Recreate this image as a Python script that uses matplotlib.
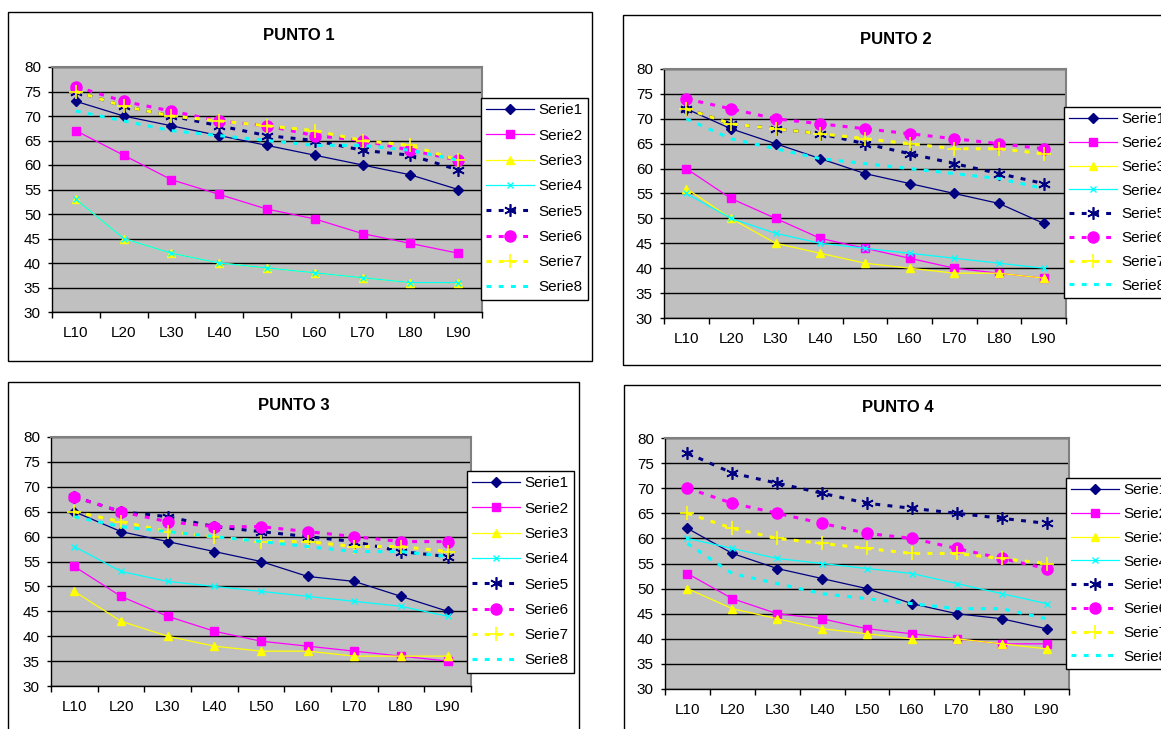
import matplotlib
matplotlib.use("Agg")
import matplotlib.pyplot as plt
from matplotlib.patches import Rectangle

plt.rcParams["font.family"] = ["Liberation Sans", "DejaVu Sans"]

categories = ["L10", "L20", "L30", "L40", "L50", "L60", "L70", "L80", "L90"]
series_names = ["Serie1", "Serie2", "Serie3", "Serie4", "Serie5", "Serie6", "Serie7", "Serie8"]

punto1 = [
    [73, 70, 68, 66, 64, 62, 60, 58, 55],
    [67, 62, 57, 54, 51, 49, 46, 44, 42],
    [53, 45, 42, 40, 39, 38, 37, 36, 36],
    [53, 45, 42, 40, 39, 38, 37, 36, 36],
    [75, 72, 70, 68, 66, 65, 63, 62, 59],
    [76, 73, 71, 69, 68, 66, 65, 63, 61],
    [75, 72, 70, 69, 68, 67, 65, 64, 61],
    [71, 69, 67, 66, 65, 64, 64, 63, 61],
]
punto2 = [
    [72, 68, 65, 62, 59, 57, 55, 53, 49],
    [60, 54, 50, 46, 44, 42, 40, 39, 38],
    [56, 50, 45, 43, 41, 40, 39, 39, 38],
    [55, 50, 47, 45, 44, 43, 42, 41, 40],
    [72, 69, 68, 67, 65, 63, 61, 59, 57],
    [74, 72, 70, 69, 68, 67, 66, 65, 64],
    [72, 69, 68, 67, 66, 65, 64, 64, 63],
    [70, 66, 64, 62, 61, 60, 59, 58, 56],
]
punto3 = [
    [65, 61, 59, 57, 55, 52, 51, 48, 45],
    [54, 48, 44, 41, 39, 38, 37, 36, 35],
    [49, 43, 40, 38, 37, 37, 36, 36, 36],
    [58, 53, 51, 50, 49, 48, 47, 46, 44],
    [68, 65, 64, 62, 61, 60, 59, 57, 56],
    [68, 65, 63, 62, 62, 61, 60, 59, 59],
    [65, 63, 61, 60, 59, 59, 58, 58, 57],
    [64, 62, 61, 60, 59, 58, 57, 57, 56],
]
punto4 = [
    [62, 57, 54, 52, 50, 47, 45, 44, 42],
    [53, 48, 45, 44, 42, 41, 40, 39, 39],
    [50, 46, 44, 42, 41, 40, 40, 39, 38],
    [60, 58, 56, 55, 54, 53, 51, 49, 47],
    [77, 73, 71, 69, 67, 66, 65, 64, 63],
    [70, 67, 65, 63, 61, 60, 58, 56, 54],
    [65, 62, 60, 59, 58, 57, 57, 56, 55],
    [59, 53, 51, 49, 48, 47, 46, 46, 44],
]

W, H = 1161, 729
DOT = (0, (1.6, 2.4))

styles = [
    dict(color="#000080", ls="-", lw=0.9, marker="D", ms=5),
    dict(color="#FF00FF", ls="-", lw=0.9, marker="s", ms=6),
    dict(color="#FFFF00", ls="-", lw=0.9, marker="^", ms=6),
    dict(color="#00FFFF", ls="-", lw=0.9, marker="x", ms=5, mew=1),
    dict(color="#000080", ls=DOT, lw=2.2, marker=(6, 2, 0), ms=9, mew=1.2),
    dict(color="#FF00FF", ls=DOT, lw=2.2, marker="o", ms=8),
    dict(color="#FFFF00", ls=DOT, lw=2.2, marker="+", ms=10, mew=1.2),
    dict(color="#00FFFF", ls=DOT, lw=2.2, marker=None, ms=0),
]

# title, data, panel frame (l,t,r,b), plot area (l,t,r,b), legend top-left, title xy, label spacing
panels = [
    ("PUNTO 1", punto1, (8, 12, 592, 361), (52, 67, 482, 312), (481, 98), (299, 36), 0.74),
    ("PUNTO 2", punto2, (623, 15, 1175, 365), (664, 69, 1066, 318), (1064, 107), (896, 39), 0.64),
    ("PUNTO 3", punto3, (8, 382, 579, 745), (51, 437, 471, 686), (467, 471), (294, 406), 0.74),
    ("PUNTO 4", punto4, (624, 385, 1175, 745), (665, 438, 1069, 689), (1066, 478), (898, 408), 0.64),
]


def px_box(l, t, r, b):
    return [l / W, 1 - b / H, (r - l) / W, (b - t) / H]


fig = plt.figure(figsize=(W / 100, H / 100), dpi=100)
fig.patch.set_facecolor("white")

x = list(range(len(categories)))

for title, data, frame, area, leg_xy, title_xy, spacing in panels:
    fl, ft, fr, fb = frame
    fig.patches.append(Rectangle((fl / W, 1 - fb / H), (fr - fl) / W, (fb - ft) / H,
                                 transform=fig.transFigure, fill=False,
                                 edgecolor="black", linewidth=1.0, zorder=0))

    ax = fig.add_axes(px_box(*area))
    ax.set_facecolor("#c0c0c0")
    for vals, name, st in zip(data, series_names, styles):
        ax.plot(x, vals, label=name, color=st["color"], linestyle=st["ls"],
                linewidth=st["lw"], marker=st["marker"], markersize=st["ms"],
                markeredgewidth=st.get("mew", 1.0), markerfacecolor=st["color"],
                markeredgecolor=st["color"], dash_capstyle="butt", zorder=3)

    ax.set_ylim(30, 80)
    ax.set_yticks(range(30, 81, 5))
    ax.set_xlim(-0.5, len(categories) - 0.5)
    ax.set_xticks([i - 0.5 for i in range(len(categories) + 1)])
    ax.set_xticklabels([])
    ax.set_xticks(x, minor=True)
    ax.set_xticklabels(categories, minor=True)
    ax.tick_params(axis="x", which="major", direction="out", length=4, width=1, color="black")
    ax.tick_params(axis="x", which="minor", length=0, pad=10, labelsize=11)
    ax.tick_params(axis="y", direction="out", length=3, width=1, pad=5, labelsize=11)
    ax.yaxis.grid(True, color="black", linewidth=1.0)
    ax.set_axisbelow(True)
    for side in ("left", "bottom"):
        ax.spines[side].set_color("black")
        ax.spines[side].set_linewidth(1.0)
    for side in ("top", "right"):
        ax.spines[side].set_color("#808080")
        ax.spines[side].set_linewidth(1.5)

    lx, ly = leg_xy
    leg = ax.legend(loc="upper left", bbox_to_anchor=(lx / W, 1 - ly / H),
                    bbox_transform=fig.transFigure, borderaxespad=0,
                    fontsize=11, frameon=True, fancybox=False, framealpha=1,
                    edgecolor="black", handlelength=3.1, handletextpad=0.3,
                    borderpad=0.35, labelspacing=spacing)
    leg.get_frame().set_linewidth(1.0)

    tx, ty = title_xy
    fig.text(tx / W, 1 - ty / H, title, ha="center", va="center",
             fontsize=12, fontweight="bold")

fig.savefig("out.png", dpi=100)
